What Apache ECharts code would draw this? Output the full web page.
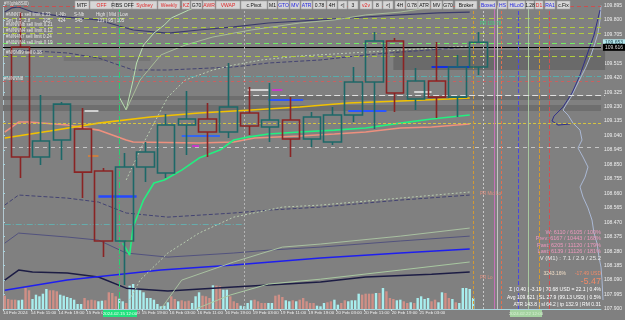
<!DOCTYPE html>
<html><head><meta charset="utf-8">
<script src="https://cdn.jsdelivr.net/npm/echarts@6/dist/echarts.min.js"></script>
<style>html,body{margin:0;padding:0;background:#808080;}#c{width:625px;height:320px;}</style>
</head><body><div id="c"></div>
<script>
const FONT = '"Liberation Sans", Arial, sans-serif';

// ---------- data ----------
const priceMin = 107.900, priceMax = 109.895, priceStep = 0.095;

const timeLabels = ["14 Feb 2024","14 Feb 11:00","14 Feb 19:00","15 Feb 03:00","15 Feb 11:00","15 Feb 19:00",
  "16 Feb 03:00","16 Feb 11:00","16 Feb 19:00","19 Feb 03:00","19 Feb 11:00","19 Feb 19:00",
  "20 Feb 03:00","20 Feb 11:00","20 Feb 19:00","21 Feb 03:00","21 Feb 11:00"];

// H6 candles: [open, close, low, high]
const candles = [
  [109.622,108.899,108.761,109.852],
  [108.899,109.004,108.846,109.307],
  [109.011,109.247,108.879,109.260],
  [109.083,108.800,108.629,109.221],
  [108.807,108.347,108.241,108.827],
  [108.347,108.833,108.057,108.925],
  [108.833,108.932,108.735,108.998],
  [108.794,109.109,108.761,109.182],
  [109.109,109.149,108.912,109.333],
  [109.149,109.063,108.899,109.254],
  [109.063,109.228,109.024,109.517],
  [109.188,109.103,109.043,109.359],
  [109.096,109.142,108.998,109.385],
  [109.142,109.017,108.899,109.293],
  [109.017,109.162,108.965,109.195],
  [108.998,109.175,108.978,109.228],
  [109.175,109.392,109.129,109.491],
  [109.392,109.662,109.083,109.721],
  [109.662,109.320,109.195,109.681],
  [109.280,109.399,109.208,109.484],
  [109.399,109.293,109.155,109.655],
  [109.293,109.491,109.162,109.570],
  [109.491,109.653,109.438,109.721]
];

// hourly tick volume
const volumes = [133,100,93,93,87,93,210,187,100,143,127,153,200,187,187,177,143,133,120,110,93,50,50,110,87,93,87,77,83,87,
  167,160,127,103,77,60,233,250,210,187,167,110,110,93,50,27,33,67,127,100,77,87,77,83,60,127,167,133,127,110,
  237,233,227,193,193,127,77,60,33,27,60,87,93,77,60,60,60,60,133,143,120,87,77,87,77,93,110,77,60,60,33,27,
  60,67,77,93,43,60,87,77,87,87,153,143,153,153,153,160,160,210,177,110,100,87,93,77,60,67,60,110,127,100,110,
  77,93,67,167,160,110,100,67,60,210,210,200,110];
const volUp = [0,0,0,0,1,1,0,0,1,1,1,1,1,0,0,0,1,1,1,1,1,1,1,0,0,0,0,1,1,0,
  0,0,0,1,1,0,1,1,1,1,1,1,1,1,1,1,1,1,0,0,1,0,0,0,1,1,1,0,0,0,
  1,0,0,1,1,0,0,0,1,1,1,1,0,0,0,0,1,1,0,0,0,1,1,0,1,0,0,0,0,0,1,1,
  1,0,0,1,1,0,0,1,1,1,1,0,0,0,0,1,0,1,0,0,0,1,1,0,0,1,0,1,1,1,1,
  0,0,1,1,0,0,1,0,1,1,1,1,1];

// indicator lines: [hour index, price]
const maYellow = [[0,109.024],[13,109.070],[27,109.122],[42,109.162],[56,109.188],[71,109.208],[85,109.228],[99,109.254],[114,109.267],[128,109.280],[134,109.287]];
const maSalmon = [[0,109.063],[4,109.129],[7,109.129],[18,109.109],[27,109.076],[35,109.011],[37,108.998],[56,108.991],[66,108.998],[72,109.024],[85,109.037],[95,109.050],[104,109.063],[114,109.090],[123,109.096],[134,109.116]];
const vwap = [[34,108.333],[36,108.254],[37,108.439],[40,108.616],[43,108.728],[46,108.748],[51,108.813],[56,108.892],[62,108.945],[66,109.011],[70,109.030],[76,109.050],[85,109.063],[95,109.076],[104,109.090],[114,109.122],[123,109.149],[134,109.175]];
const bandUp1 = [[33,109.293],[35,109.208],[37,109.405],[38,109.517],[40,109.635],[43,109.714],[46,109.767],[48,109.813],[53,109.865],[58,109.911],[61,109.944]];
const bandUp2 = [[35,109.208],[39,109.405],[45,109.570],[52,109.635],[60,109.688],[71,109.734],[85,109.780],[95,109.800],[104,109.833],[114,109.852],[122,109.879],[134,109.893]];
const bandUp3 = [[35,108.748],[40,108.991],[47,109.293],[52,109.405],[60,109.471],[66,109.504],[74,109.537],[85,109.563],[114,109.602],[134,109.629]];
const bandLo1 = [[36,107.959],[39,108.090],[47,108.268],[56,108.399],[66,108.504],[80,108.570],[91,108.583],[114,108.629],[134,108.669]];
const bandLo2 = [[45,107.900],[51,108.090],[66,108.209],[80,108.307],[91,108.327],[114,108.379],[134,108.432]];
const bandLo3 = [[55,107.900],[65,107.992],[76,108.064],[91,108.096],[114,108.156],[134,108.209]];
const navyTop = [[0,109.852],[2,109.879],[4,109.885],[8,109.852],[18,109.819],[27,109.800],[37,109.734],[47,109.714],[56,109.734],[66,109.754],[76,109.780],[91,109.800],[99,109.813],[114,109.833],[125,109.846],[134,109.852]];
const navyDash1 = [[0,109.556],[4,109.602],[18,109.583],[27,109.550],[37,109.471],[47,109.471],[66,109.491],[76,109.517],[91,109.537],[104,109.570],[114,109.589],[134,109.622]];
const navyDash2 = [[0,108.583],[4,108.649],[18,108.629],[27,108.603],[35,108.531],[47,108.504],[66,108.531],[76,108.550],[91,108.570],[114,108.616],[134,108.649]];
const navyMid = [[0,108.333],[4,108.399],[18,108.373],[27,108.353],[35,108.268],[47,108.241],[66,108.268],[76,108.287],[91,108.307],[114,108.347],[134,108.379]];
const navyDark = [[0,108.090],[4,108.156],[8,108.143],[18,108.136],[27,108.110],[35,108.037],[47,108.018],[66,108.044],[76,108.057],[91,108.077],[104,108.110],[123,108.129],[134,108.143]];
const blueLine = [[0,108.024],[18,108.090],[45,108.156],[66,108.189],[91,108.235],[114,108.268],[134,108.294]];

// volume profile on right: [width, price]
const profileLight = [[3,109.895],[4,109.800],[6,109.714],[9,109.648],[13,109.570],[18,109.491],[23,109.425],[28,109.359],[33,109.293],[38,109.241],[41,109.208],[36,109.175],[31,109.122],[24,109.076],[22,109.011],[26,108.958],[21,108.899],[16,108.833],[19,108.767],[24,108.702],[21,108.636],[16,108.564],[12,108.485],[10,108.399],[7,108.333],[5,108.241],[3,108.175],[2,108.090],[1,107.959]];
const profileNavy = [[4,109.865],[10,109.701],[17,109.570],[24,109.438],[32,109.320],[41,109.228],[50,109.168],[52,109.136],[46,109.109],[34,109.116]];

// price levels
const lastPrice = 109.653, bidPrice = 109.616;

// ---------- build ----------
const HOURS = 174, SLOTS = 29;
const hourCats = Array.from({length: HOURS}, (_, i) => String(i));
const tickCats = Array.from({length: HOURS + 1}, (_, i) => String(i));
const candleCats = Array.from({length: SLOTS}, (_, i) => String(i));
const isTick = i => i % 8 === 0 && i / 8 < timeLabels.length;

function line(data, color, width, type, z) {
  return {type: 'line', xAxisIndex: 0, yAxisIndex: 0, data, showSymbol: false, symbol: 'none',
    lineStyle: {color, width, type: type || 'solid'}, silent: true, z: z || 3, animation: false};
}
const seg = (i1, i2, p, color, w) => [{coord: [i1, p], lineStyle: {color, width: w || 2, type: 'solid'}}, {coord: [i2, p]}];
const vline = (i, color, type) => ({xAxis: i, lineStyle: {color, width: 1, type: type || [3, 2]}});
const hl = (p, color, type, w) => ({yAxis: p, lineStyle: {color, type: type || [5, 4], width: w || 1}});

const option = {
  animation: false,
  backgroundColor: '#808080',
  grid: [
    {left: 3, top: 5.5, width: HOURS * 3.47, height: 303.5},
    {left: 9.94, top: 5.5, width: SLOTS * 20.82, height: 303.5},
    {left: 3, right: 21, top: 5.5, height: 303.5},
    {left: 550, width: 54, top: 5.5, height: 303.5}
  ],
  xAxis: [
    {type: 'category', gridIndex: 0, data: hourCats, boundaryGap: true, show: false},
    {type: 'category', gridIndex: 1, data: candleCats, show: false},
    {type: 'value', gridIndex: 2, min: 0, max: 1, axisLine: {show: true, onZero: false, lineStyle: {color: '#a8d4dc'}},
      axisTick: {show: false}, axisLabel: {show: false}, splitLine: {show: false}},
    {type: 'value', gridIndex: 3, min: 0, max: 54, inverse: true, show: false},
    {type: 'category', gridIndex: 0, data: tickCats, boundaryGap: false, position: 'bottom', offset: 0,
      axisLine: {show: false},
      axisTick: {show: true, interval: (i) => isTick(i), length: 2, lineStyle: {color: '#d0dde0'}},
      axisLabel: {show: true, interval: (i) => isTick(i), formatter: (v, i) => isTick(i) ? timeLabels[i / 8] : '',
        align: 'left', fontSize: 4.4, color: '#eeeeee', fontFamily: FONT, margin: 2,
        showMinLabel: true, showMaxLabel: false, hideOverlap: false}}
  ],
  yAxis: [
    {type: 'value', gridIndex: 0, min: priceMin, max: priceMax, show: false},
    {type: 'value', gridIndex: 0, min: 0, max: 3035, show: false},
    {type: 'value', gridIndex: 1, min: priceMin, max: priceMax, show: false},
    {type: 'value', gridIndex: 2, position: 'right', min: priceMin, max: priceMax, interval: priceStep,
      axisLine: {show: true, lineStyle: {color: '#a8d4dc'}},
      axisTick: {show: true, length: 2, lineStyle: {color: '#a8d4dc'}},
      axisLabel: {fontSize: 5, color: '#eeeeee', fontFamily: FONT, margin: 3, formatter: v => v.toFixed(3)},
      splitLine: {show: false}},
    {type: 'value', gridIndex: 2, position: 'left', min: priceMin, max: priceMax,
      axisLine: {show: true, lineStyle: {color: '#b4c8d0'}}, axisTick: {show: false}, axisLabel: {show: false}, splitLine: {show: false}},
    {type: 'value', gridIndex: 3, min: priceMin, max: priceMax, show: false}
  ],
  series: [
    {type: 'line', xAxisIndex: 2, yAxisIndex: 3, data: [], silent: true, z: 1,
      markArea: {silent: true, itemStyle: {color: '#6e6e6e'}, data: [
        [{yAxis: 109.300}, {yAxis: 109.274}],
        [{yAxis: 109.241}, {yAxis: 109.201}]
      ]},
      markLine: {symbol: 'none', silent: true, label: {show: false}, data: [
        hl(109.890, '#c85050', [4, 3]),
        hl(109.806, '#b0cc40'), hl(109.754, '#b0cc40'), hl(109.708, '#b0cc40'), hl(109.563, '#b0cc40'),
        hl(109.431, '#58acac', [6, 2, 1, 2]),
        hl(109.399, '#c86060', [3, 3]),
        hl(109.122, '#d4c440', [3, 2]),
        hl(108.958, '#c4c4c4', [4, 4]),
        Object.assign(hl(lastPrice, '#74f060', [5, 4]), {label: {show: true, position: 'end', distance: 2,
          formatter: lastPrice.toFixed(3), backgroundColor: '#b4e8ee', color: '#2a4a55', fontSize: 5, fontFamily: FONT, padding: [1, 2]}}),
        Object.assign(hl(bidPrice, '#000000', 'solid', 1), {label: {show: true, position: 'end', distance: 2,
          formatter: bidPrice.toFixed(3), backgroundColor: '#000000', color: '#dddddd', fontSize: 5, fontFamily: FONT, padding: [1, 2]}})
      ]}},
    {type: 'line', xAxisIndex: 0, yAxisIndex: 0, data: [], silent: true, z: 2,
      markArea: {silent: true, itemStyle: {color: '#6a6a6a'}, data: [
        [{coord: [112, 109.602]}, {coord: [173, 109.471]}],
        [{coord: [17, 109.556], itemStyle: {color: '#747474'}}, {coord: [42, 109.530]}]
      ]},
      markLine: {symbol: 'none', silent: true, label: {show: false}, data: [
        vline(33, '#28d070', [6, 2, 1, 2]),
        vline(69, '#b4b4b4', [2, 2]),
        vline(135, '#d49a30'), vline(138, '#c8c8c8', [2, 2]), vline(141, '#c870b8', 'solid'),
        vline(142, '#c4c4c4', 'solid'), vline(143, '#e07050', [3, 2]), vline(148, '#4848e0', [4, 2]),
        vline(151, '#a8c8a0', 'solid'), vline(154, '#d49a30', [4, 2]), vline(157, '#d05050', [4, 2]),
        [{coord: [69, 109.307], lineStyle: {color: '#e0e0e0', type: [6, 3], width: 1}}, {coord: [173, 109.307]}],
        [{coord: [0, 108.458], lineStyle: {color: '#66acac', type: [6, 2, 1, 2], width: 1}}, {coord: [69, 108.458]}],
        seg(27, 38, 108.642, '#2448ff', 2.5),
        seg(76, 86, 109.274, '#2a56ff', 2),
        seg(51, 62, 109.037, '#3466f0', 2),
        seg(99, 110, 109.201, '#2a56ff', 2),
        seg(123, 134, 109.491, '#1430e0', 2),
        seg(70, 76, 109.339, '#f2f2f2', 1.5),
        seg(77, 80, 109.339, '#e020e0', 1.5),
        seg(23, 27, 109.201, '#eeeeee', 1.5),
        seg(118, 123, 109.326, '#eeeeee', 1.5),
        seg(54, 56, 108.971, '#e020e0', 1.5),
        seg(24, 27, 108.906, '#e08030', 1.5),
        seg(35, 37, 108.346, '#e0c020', 1.5)
      ]}},
    {type: 'bar', xAxisIndex: 0, yAxisIndex: 1, data: volumes, barWidth: 2.4, silent: true, z: 2,
      itemStyle: {color: p => volUp[p.dataIndex] ? '#a8eeee' : '#cf8f86'}},
    line(navyTop, '#3a3a6c', 1.2),
    line(navyDash1, '#434372', 1, [4, 2]),
    line(navyDash2, '#434372', 1, [4, 2]),
    line(navyMid, '#52527e', 1),
    line(navyDark, '#1c1c44', 1.5),
    line(blueLine, '#1e1ef0', 1.5),
    line(bandUp1, '#b8e0b0', 1),
    line(bandUp2, '#a8bc98', 1),
    line(bandUp3, '#b8ccb0', 1, [2, 2]),
    line(bandLo1, '#b8ccb0', 1, [2, 2]),
    line(bandLo2, '#a8c0a0', 1),
    line(bandLo3, '#a8c8a0', 1),
    line(maSalmon, '#ee907e', 1.6, 'solid', 4),
    line(maYellow, '#f2c200', 1.6, 'solid', 4),
    line(vwap, '#22f080', 1.6, 'solid', 4),
    {type: 'candlestick', xAxisIndex: 1, yAxisIndex: 2, data: candles, barWidth: 18, silent: true, z: 6,
      itemStyle: {color: 'transparent', color0: 'transparent', borderColor: '#1d6868', borderColor0: '#8a2424', borderWidth: 1.6}},
    {type: 'line', xAxisIndex: 3, yAxisIndex: 5, data: profileLight, showSymbol: false, silent: true, z: 3,
      lineStyle: {color: '#aab8d4', width: 1}},
    {type: 'line', xAxisIndex: 3, yAxisIndex: 5, data: profileNavy, showSymbol: false, silent: true, z: 3,
      lineStyle: {color: '#30308a', width: 1}}
  ],
  graphic: []
};

// ---------- overlays ----------
const G = option.graphic;
function txt(x, y, s, color, size, align, weight) {
  G.push({type: 'text', x, y, z: 100, silent: true, style: {text: s, fill: color,
    font: (weight || 'normal') + ' ' + size + 'px ' + FONT, fontSize: size, fontFamily: FONT,
    align: align || 'left', textAlign: align || 'left', verticalAlign: 'middle', textVerticalAlign: 'middle'}});
}
const toolbar = [
  ['MTF',75,14,'#111'],['OFF',90,23,'#e02828'],['FIBS OFF',113,19,'#111'],['Sydney',132,25,'#e02828'],
  ['Weekly',158,22,'#e02828'],['KZ',182,8,'#e02828'],['G70',191,11,'#111'],['AWR',203,12,'#e02828'],
  ['VWAP',216,24,'#e02828'],['c.Pivot',241,26,'#111'],['M1',268,9,'#111'],['GTO',278,11,'#2424e0'],
  ['MV',290,10,'#2424e0'],['ATR',301,11,'#2424e0'],['0.78',313,13,'#111'],['4H',327,10,'#111'],
  ['<|',338,9,'#111'],['3',348,10,'#111'],['v2v',360,12,'#e02828'],['8',373,9,'#111'],['<|',383,10,'#111'],
  ['4H',395,10,'#111'],['0.78',406,12,'#111'],['ATR',418,12,'#111'],['MV',431,11,'#111'],['G70',443,10,'#111'],
  ['Broker',455,22,'#111'],['Boxed',480,16,'#2424e0'],['HS',498,9,'#2424e0'],['HiLoO',508,17,'#2424e0'],
  ['1.28',526,8,'#111'],['D1',535,8,'#e02828'],['RA1',545,10,'#2424e0'],['c.Fix',557,13,'#111']
];
toolbar.forEach(([t, x, w, c]) => {
  G.push({type: 'rect', z: 99, silent: true, shape: {x: x, y: 1, width: w, height: 8},
    style: {fill: '#d6d6d6', stroke: '#a4a4a4', lineWidth: 0.6}});
  txt(x + w / 2, 5.2, t, c, 5, 'center');
});

const leg = '#e4e4e4';
txt(4, 4, '#Y(ghk8Sl0)', leg, 4.5);
txt(6, 15, '#NNN7u sell limit 0.33', leg, 4.5);
txt(56, 15, 'L-Nb', leg, 4.5); txt(74, 15, 'S-Nb', leg, 4.5); txt(96, 15, 'High | Mid | Low', leg, 4.5);
txt(6, 21, 'Sm  1.5  2.8', leg, 4.5); txt(43, 21, '225', leg, 4.5); txt(58, 21, '424', leg, 4.5);
txt(75, 21, '545', leg, 4.5); txt(97, 21, '131 | 95 | 105', leg, 4.5);
txt(6, 25, '#N/NNNb sell limit 0.21', leg, 4.5);
txt(6, 31, '#N/NNN4 sell limit 0.12', leg, 4.5);
txt(6, 37, '#N/N4N7 sell limit 0.24', leg, 4.5);
txt(6, 43, '#N/NNN4 sell limit 0.19', leg, 4.5);
txt(6, 53, '#N/0N99 sell 0.18', leg, 4.5);
txt(4, 79, '#N/NNN8', leg, 4.5);

txt(480, 24, 'PR 109.78', '#40d080', 4.5);
txt(480, 194, 'PR Mid Lo', '#e09080', 4.5);
txt(480, 278, 'PR Lo', '#e09080', 4.5);

const pink = '#ec98bc';
txt(601, 232, 'W: 6110 / 6105 / 100%', pink, 5.5, 'right');
txt(601, 238.5, 'Prev: 6167 / 10443 / 168%', pink, 5.5, 'right');
txt(601, 245, 'Past: 6205 / 11120 / 179%', pink, 5.5, 'right');
txt(601, 251.5, 'Last: 6139 / 11126 / 181%', pink, 5.5, 'right');
txt(601, 258, 'V (M1) : 7.1 / 2.9 / 25.2', '#e6e6e6', 6, 'right');
txt(566, 274, '3243.16%', '#f0dcc4', 5, 'right');
txt(601, 274, '-17.49 USD', '#f08a68', 5, 'right');
txt(601, 282, '-5.47', '#f08a68', 9, 'right');
txt(601, 290, 'Σ | 0.40 | -3.19 | 70.68 USD = 22.1 | 0.4%', '#ffffff', 5, 'right');
txt(601, 297.5, 'Avg 109.621 | SL 27.9 (99.13 USD) | 0.5%', '#ffffff', 5, 'right');
txt(601, 305, 'ATR 143.8 | sl 64.2 | tp 132.9 | RM 0.31', '#ffffff', 5, 'right');

G.push({type: 'rect', z: 99, silent: true, shape: {x: 103, y: 310, width: 34, height: 7}, style: {fill: '#22e27e'}});
txt(120, 313.5, '2024.02.15 12:00', '#f0fff4', 4.4, 'center');
G.push({type: 'rect', z: 99, silent: true, shape: {x: 510, y: 310, width: 32, height: 7}, style: {fill: '#a4d2a0'}});
txt(526, 313.5, '2024.02.22 12:00', '#d8f0d4', 4.4, 'center');

const chart = echarts.init(document.getElementById('c'), null, {renderer: 'canvas', width: 625, height: 320});
chart.setOption(option);
</script></body></html>
